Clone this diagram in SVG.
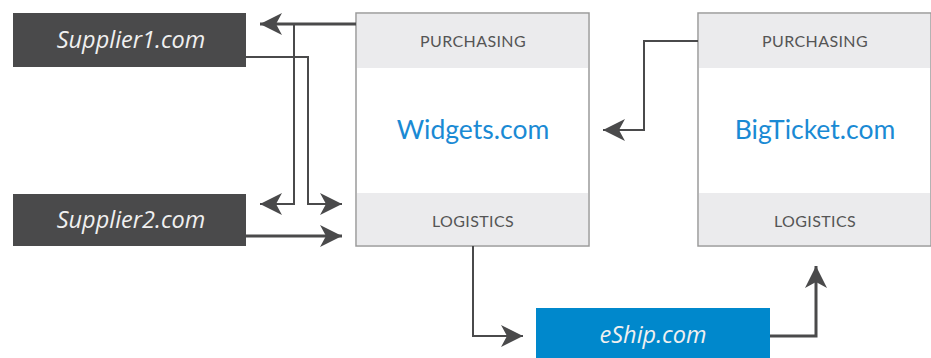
<svg xmlns="http://www.w3.org/2000/svg" width="931" height="358" viewBox="0 0 931 358">
<style>
.dark{fill:#4a4a4b}
.card{fill:#ffffff;stroke:#9a9a9a;stroke-width:1.5}
.band{fill:#ebebed}
.it{font-family:"Open Sans","Liberation Sans",sans-serif;font-style:italic;font-size:23.5px;fill:#f0f0f0;text-anchor:middle}
.sec{font-family:Lato,"Open Sans","Liberation Sans",sans-serif;font-size:16px;fill:#555555;text-anchor:middle;letter-spacing:0.4px}
.name{font-family:Lato,"Open Sans","Liberation Sans",sans-serif;font-size:26.5px;fill:#1a8ad4;text-anchor:middle}
.ln{fill:none;stroke:#4a4a4b;stroke-width:3}
.thin{fill:none;stroke:#4a4a4b;stroke-width:2}
</style>
<defs>
<marker id="ah" markerUnits="userSpaceOnUse" markerWidth="24" markerHeight="24" viewBox="0 0 24 24" refX="22" refY="12" orient="auto">
<path d="M0,1 L22,12 L0,23 L6,12 Z" fill="#4a4a4b"/>
</marker>
</defs>
<g id="supplier1"><rect class="dark" x="13" y="13" width="233" height="54"/><text class="it" x="131" y="48">Supplier1.com</text></g>
<g id="supplier2"><rect class="dark" x="13" y="194" width="233" height="52"/><text class="it" x="131" y="228">Supplier2.com</text></g>
<g id="widgets">
<rect class="card" x="356" y="13" width="233" height="233"/>
<rect class="band" x="357" y="14" width="231" height="54"/>
<rect class="band" x="357" y="193" width="231" height="52"/>
<text class="sec" x="473" y="47">PURCHASING</text>
<text class="name" x="473" y="139">Widgets.com</text>
<text class="sec" x="473" y="227">LOGISTICS</text>
</g>
<g id="bigticket">
<rect class="card" x="698" y="13" width="233" height="233"/>
<rect class="band" x="699" y="14" width="231" height="54"/>
<rect class="band" x="699" y="193" width="231" height="52"/>
<text class="sec" x="815" y="47">PURCHASING</text>
<text class="name" x="815" y="139">BigTicket.com</text>
<text class="sec" x="815" y="227">LOGISTICS</text>
</g>
<g id="eship"><rect x="536" y="308" width="234" height="50" fill="#0088cc"/><text class="it" x="653" y="343">eShip.com</text></g>
<g id="connectors">
<path class="ln" d="M356,24 L260,24" marker-end="url(#ah)"/>
<path class="thin" d="M294,24 L294,204 L260,204" marker-end="url(#ah)"/>
<path class="thin" d="M246,57 L308,57 L308,204 L342,204" marker-end="url(#ah)"/>
<path class="ln" d="M246,236 L342,236" marker-end="url(#ah)"/>
<path class="thin" d="M698,41 L644,41 L644,130 L603,130" marker-end="url(#ah)"/>
<path class="thin" d="M473,246 L473,336 L523,336" marker-end="url(#ah)"/>
<path class="ln" d="M770,336 L816,336 L816,266" marker-end="url(#ah)"/>
</g>
</svg>
